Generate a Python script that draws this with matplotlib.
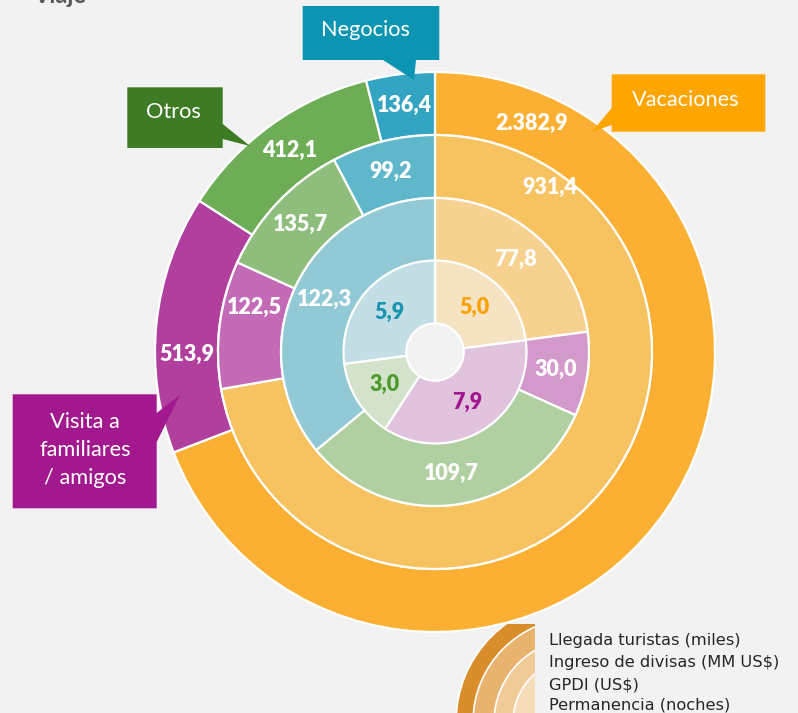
import matplotlib.pyplot as plt
from matplotlib.patches import Polygon, Wedge, Rectangle
import numpy as np

W, H = 798, 713
CX, CY = 435, H - 352  # centre of the rings (y up)

# data
categorias = ["Vacaciones", "Visita a familiares / amigos", "Otros", "Negocios"]
llegada_turistas = [2382.9, 513.9, 412.1, 136.4]   # miles
ingreso_divisas = [931.4, 122.5, 135.7, 99.2]       # MM US$
gpdi = [77.8, 30.0, 109.7, 122.3]                    # US$
permanencia = [5.0, 7.9, 3.0, 5.9]                   # noches
series_nombres = ["Llegada turistas (miles)", "Ingreso de divisas (MM US$)",
                  "GPDI (US$)", "Permanencia (noches)"]

# colours per ring (outer -> inner), per category
ring_colors = [
    ["#FBB034", "#B13F9E", "#6DAD55", "#33A4C1"],
    ["#F7C260", "#C36BB7", "#8FBE7C", "#5FB7CC"],
    ["#F7D190", "#D399CA", "#B0D0A2", "#91C9D5"],
    ["#F5E3C3", "#E1C3DD", "#D3E3CB", "#C3DFE5"],
]
inner_label_colors = ["#F9A100", "#A0168E", "#4C9A2A", "#1A94B2"]
box_colors = ["#FFA500", "#A2198F", "#3E7B25", "#0C94B3"]

radii = [280, 217, 154, 91.5]
ring_w = 63

# a few labels are moved by hand in the original (ring, slice) -> (angle, radius)
label_override = {(0, 0): (67, 248), (1, 0): (55, 201), (0, 1): (180.5, 248), (1, 1): (166, 186)}


def fmt(v):
    s = f"{v:,.1f}"
    return s.replace(",", "X").replace(".", ",").replace("X", ".")


plt.rcParams['font.family'] = ['Lato', 'DejaVu Sans']
fig = plt.figure(figsize=(W / 100, H / 100), dpi=100, facecolor="#F2F2F2")
ax = fig.add_axes([0, 0, 1, 1])
ax.set_facecolor("#F2F2F2")

for i, vals in enumerate([llegada_turistas, ingreso_divisas, gpdi, permanencia]):
    wedges, _ = ax.pie(vals, radius=radii[i], center=(CX, CY), startangle=90,
                       counterclock=False, colors=ring_colors[i],
                       wedgeprops=dict(width=ring_w, edgecolor="white", linewidth=1.6))
    for j, w in enumerate(wedges):
        ang = (w.theta1 + w.theta2) / 2
        rr = w.r - w.width / 2
        if (i, j) in label_override:
            ang, rr = label_override[(i, j)]
        x = CX + rr * np.cos(np.radians(ang))
        y = CY + rr * np.sin(np.radians(ang))
        col = inner_label_colors[j] if i == 3 else "white"
        ax.text(x, y, fmt(vals[j]), ha="center", va="center", fontsize=15.5,
                fontweight="heavy", color=col)

# centre hole
ax.add_patch(plt.Circle((CX, CY), 28.5, facecolor="#F2F2F2", edgecolor="white", lw=1.6))


# callout boxes (pixel coords, y down)
def callout(pts, color, text, tx, ty, size=15.7):
    ax.add_patch(Polygon([(x, H - y) for x, y in pts], closed=True, facecolor=color,
                         edgecolor="none", zorder=5))
    ax.text(tx, H - ty, text, ha="center", va="center", color="white",
            fontsize=size, zorder=6, linespacing=1.5)


callout([(611.7, 74.3), (765.3, 74.3), (765.3, 131.7), (611.7, 131.7), (611.7, 125),
         (591.7, 132), (611.7, 108)], box_colors[0], categorias[0], 686, 100)
callout([(12.7, 394.3), (156.7, 394.3), (156.7, 413), (180, 395), (156.7, 442),
         (156.7, 508.3), (12.7, 508.3)], box_colors[1], "Visita a\nfamiliares\n/ amigos", 85, 450)
callout([(127.3, 87.3), (222.7, 87.3), (222.7, 124), (250, 146), (222.7, 139),
         (222.7, 148), (127.3, 148)], box_colors[2], categorias[2], 173.5, 112)
callout([(302.7, 6), (439.3, 6), (439.3, 60), (416, 60), (414, 80), (383, 60),
         (302.7, 60)], box_colors[3], categorias[3], 365.5, 30)

# legend graphic: concentric arcs clipped to a box
clip = Rectangle((440, 0), 95, 89, transform=ax.transData, facecolor="none", edgecolor="none")
ax.add_patch(clip)
leg_r = [121, 104, 83, 64]
leg_c = ["#D98E2B", "#E8B36E", "#F0CB98", "#F5DDBA"]
for r, c in zip(leg_r, leg_c):
    wd = Wedge((577, H - 722), r, 0, 360, facecolor=c, edgecolor="white", lw=1.2)
    ax.add_patch(wd)
    wd.set_clip_path(clip)

for k, name in enumerate(series_nombres):
    ax.text(549, H - [640, 663, 685, 705][k], name, ha="left", va="center",
            fontsize=11.7, color="#262626", family="DejaVu Sans")

ax.text(33, H - 3, "Viaje", ha="left", va="baseline", fontsize=17,
        fontweight="bold", color="#595959")

ax.set_xlim(0, W)
ax.set_ylim(0, H)
ax.set_aspect("equal")
ax.axis("off")

fig.savefig("out.png", dpi=100, facecolor=fig.get_facecolor())
